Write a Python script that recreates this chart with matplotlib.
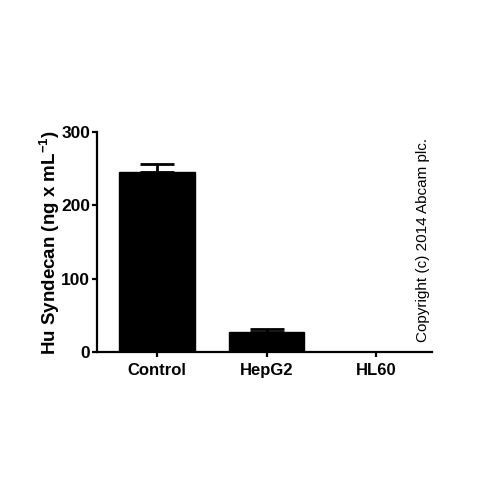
import matplotlib
matplotlib.use("Agg")
import matplotlib.pyplot as plt

groups = ["Control", "HepG2", "HL60"]
means = [245, 27, 0]
errors = [11, 4, 0]
y_ticks = [0, 100, 200, 300]

plt.rcParams["font.family"] = ["Liberation Sans", "DejaVu Sans"]
plt.rcParams["mathtext.fontset"] = "custom"
plt.rcParams["mathtext.bf"] = "Liberation Sans:bold"
plt.rcParams["mathtext.rm"] = "Liberation Sans"

fig = plt.figure(figsize=(5, 5), dpi=100)
ax = fig.add_axes([0.194, 0.296, 0.67, 0.44])

x = list(range(len(groups)))
ax.bar(x, means, width=0.69, color="black", edgecolor="black", zorder=2)
ax.errorbar(x, means, yerr=[[0] * len(errors), errors], fmt="none",
            ecolor="black", elinewidth=2, capsize=12, capthick=2, zorder=1)

ax.set_xlim(-0.55, 2.51)
ax.set_ylim(0, 300)
ax.set_xticks(x)
ax.set_xticklabels(groups, fontsize=12, fontweight="bold")
ax.set_yticks(y_ticks)
ax.set_yticklabels([str(v) for v in y_ticks], fontsize=12.5, fontweight="bold")
ax.set_ylabel("Hu Syndecan (ng x mL$^{\\mathbf{-1}}$)", fontsize=13.5,
              fontweight="bold", labelpad=-1)

for side in ["top", "right"]:
    ax.spines[side].set_visible(False)
for side in ["left", "bottom"]:
    ax.spines[side].set_linewidth(1.6)
ax.tick_params(axis="y", width=1.6, length=3.5, direction="out", pad=1.5)
ax.tick_params(axis="x", width=1.6, length=3.5, direction="out", pad=4.5)

fig.text(0.846, 0.52, "Copyright (c) 2014 Abcam plc.", rotation=90,
         ha="center", va="center", fontsize=11)

fig.savefig("out.png", dpi=100)
